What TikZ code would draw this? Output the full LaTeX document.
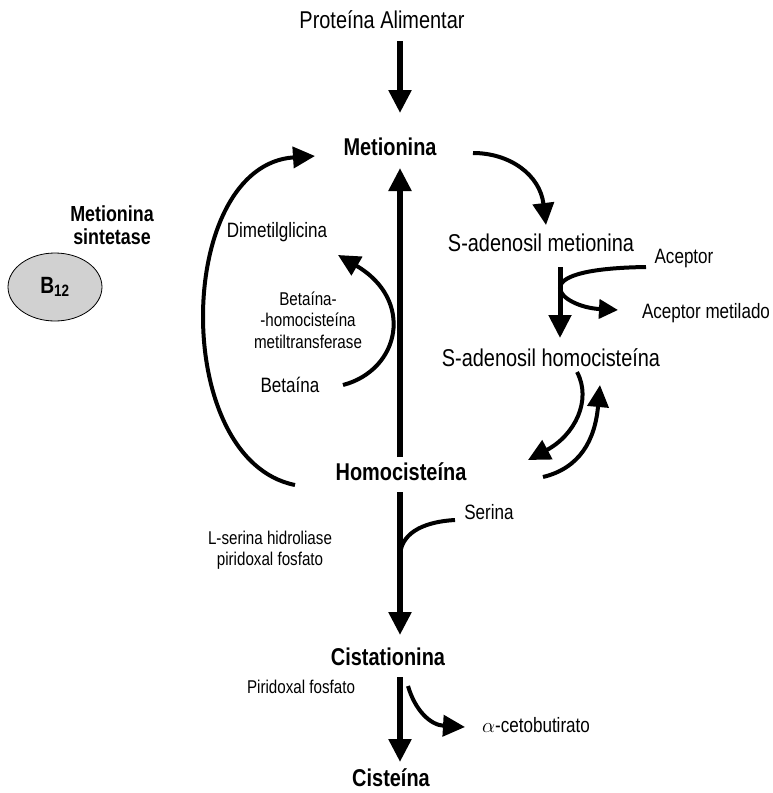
\documentclass[tikz,border=0pt]{standalone}
\usepackage{fontspec}
\setmainfont[FakeStretch=0.82]{Liberation Sans}
\usepackage{tikz}
\usetikzlibrary{arrows.meta,positioning,shapes.geometric}

\begin{document}
\begin{tikzpicture}[x=1pt,y=-1pt,
    big/.style={font=\fontsize{24.3}{26}\selectfont},
    lbl/.style={font=\fontsize{20.8}{24}\selectfont},
    note/.style={font=\fontsize{18.5}{21.5}\selectfont,align=center},
    title/.style={font=\fontsize{24.3}{26}\selectfont\bfseries},
    flow/.style={line width=5.5pt,-{Triangle[length=23pt,width=22pt]}},
    curved/.style={line width=4pt,-{Triangle[length=22pt,width=21pt]}},
    link/.style={line width=4pt}]

\useasboundingbox (0,0) rectangle (772,793);

\def\axis{400}

% metabolites
\node[big]   (prot) at (382,20)  {Proteína Alimentar};
\node[title] (met)  at (390,147) {Metionina};
\node[title] (hom)  at (401,472) {Homocisteína};
\node[title] (cist) at (388,657) {Cistationina};
\node[title,inner sep=1pt] (cys) at (391,778) {Cisteína};
\node[big]   (sam)  at (541,243) {S-adenosil metionina};
\node[big]   (sah)  at (551,358) {S-adenosil homocisteína};

% side labels
\node[title,font=\fontsize{21.8}{23.5}\selectfont\bfseries,align=center] (sint) at (112,225) {Metionina\\sintetase};
\node[ellipse,draw,fill=black!18,line width=0.8pt,minimum width=94pt,minimum height=68pt,
      font=\fontsize{23.5}{26}\selectfont\bfseries] (b12) at (55,287) {B\textsubscript{12}};
\node[lbl]  (dmg)  at (277,232) {Dimetilglicina};
\node[note] (bhmt) at (308,320) {Betaína-\\-homocisteína\\metiltransferase};
\node[lbl]  (bet)  at (290,385) {Betaína};
\node[lbl]  (acc)  at (684,258) {Aceptor};
\node[lbl]  (accm) at (706,313) {Aceptor metilado};
\node[lbl]  (ser)  at (489,512) {Serina};
\node[note] (lser) at (270,550) {L-serina hidroliase\\piridoxal fosfato};
\node[note] (pir)  at (301,687) {Piridoxal fosfato};
\node[lbl]  (ceto) at (536,725) {$\alpha$-cetobutirato};

\coordinate (ax) at (\axis,0);
\coordinate (jn) at (560,288);

% main vertical chain
\foreach \a/\b/\s/\e in {prot/met/21/34, hom/met/15/21, hom/cist/20/22, cist/cys/20/16}
    \draw[flow,shorten <=\s pt,shorten >=\e pt] (\a -| ax) -- (\b -| ax);
\draw[flow,line width=5pt,shorten <=24pt,shorten >=20pt] (sam -| jn) -- (sah -| jn);

% side reactions
\draw[curved] ([shift={(83,6)}]met.center) .. controls +(37,0) and +(-6,-50) .. ([shift={(5,-18)}]sam.center);
\draw[curved] ([shift={(-106,13)}]hom.center) .. controls +(-125,-25) and +(-140,9) .. ([shift={(-75,9)}]met.center);
\draw[curved] ([shift={(53,0)}]bet.center) .. controls +(57,-15) and +(77,45) .. ([shift={(61,23)}]dmg.center);
\draw[curved,-{Triangle[length=19pt,width=19pt]}] ([shift={(-38,9)}]acc.center) .. controls +(-66,1) and +(0,-10) .. (jn)
    .. controls +(0,10) and +(-38,-2) .. ([shift={(-88,-3)}]accm.center);
\draw[curved] ([shift={(26,14)}]sah.center) .. controls +(15,28) and +(47,-25) .. ([shift={(127,-12)}]hom.center);
\draw[curved] ([shift={(142,5)}]hom.center) .. controls +(37,-9) and +(-5,55) .. ([shift={(49,27)}]sah.center);
\draw[link] ([shift={(-34,8)}]ser.center) .. controls +(-35,2) and +(0,-22) .. ([shift={(-1,85)}]hom.center);
\draw[curved] ([shift={(20,29)}]cist.center) .. controls +(7,24) and +(-35,-2) .. ([shift={(-71,2)}]ceto.center);

\end{tikzpicture}
\end{document}
